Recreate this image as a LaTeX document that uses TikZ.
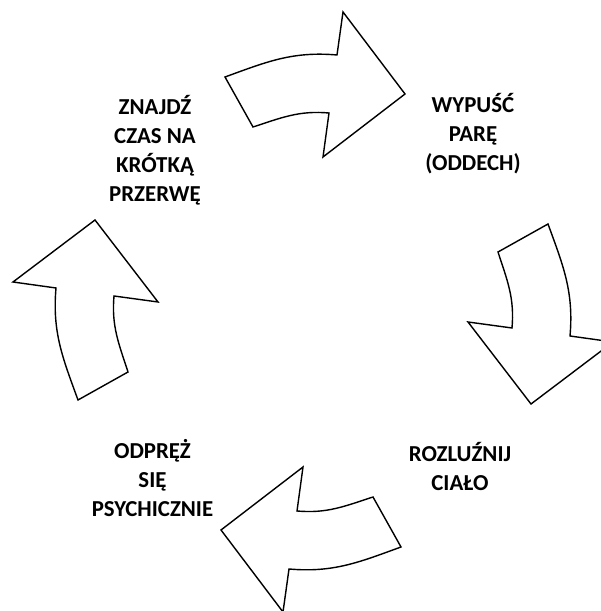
\documentclass[tikz,border=0pt]{standalone}
\usepackage{fontspec}
\setmainfont{Carlito}
\usetikzlibrary{positioning}
\tikzstyle{blockarrow} = [draw, thick, fill=white, line join=miter]
\tikzstyle{cyctext} = [font=\bfseries\fontsize{13}{16.5}\selectfont, align=center, inner sep=0pt]
\tikzset{
  cyclearrow/.pic={
    \path [blockarrow] (-88,235) to[out=20,in=175] (24,257) -- (30,300) -- (92,218)
      -- (10,155) -- (16,199) to[out=175,in=18] (-60,185) -- cycle;
  }
}

\begin{document}
\begin{tikzpicture}[x=0.02cm,y=0.02cm]
      \useasboundingbox (0,0) rectangle (600,611);
      \coordinate (ctr) at (313,299);

      \foreach \a in {0,-90,-180,-270}
        \pic [rotate=\a] at (ctr) {cyclearrow};

      \node [cyctext] (breath) at (473,477) {WYPUŚĆ\\PARĘ\\(ODDECH)};
      \node [cyctext] (relax) at (460,145) {ROZLUŹNIJ\\CIAŁO};
      \node [cyctext] (mind) at (152.5,132.5) {ODPRĘŻ\\SIĘ\\PSYCHICZNIE};
      \node [cyctext] (pause) at (155,461) {ZNAJDŹ\\CZAS NA\\KRÓTKĄ\\PRZERWĘ};
    \end{tikzpicture}
\end{document}
